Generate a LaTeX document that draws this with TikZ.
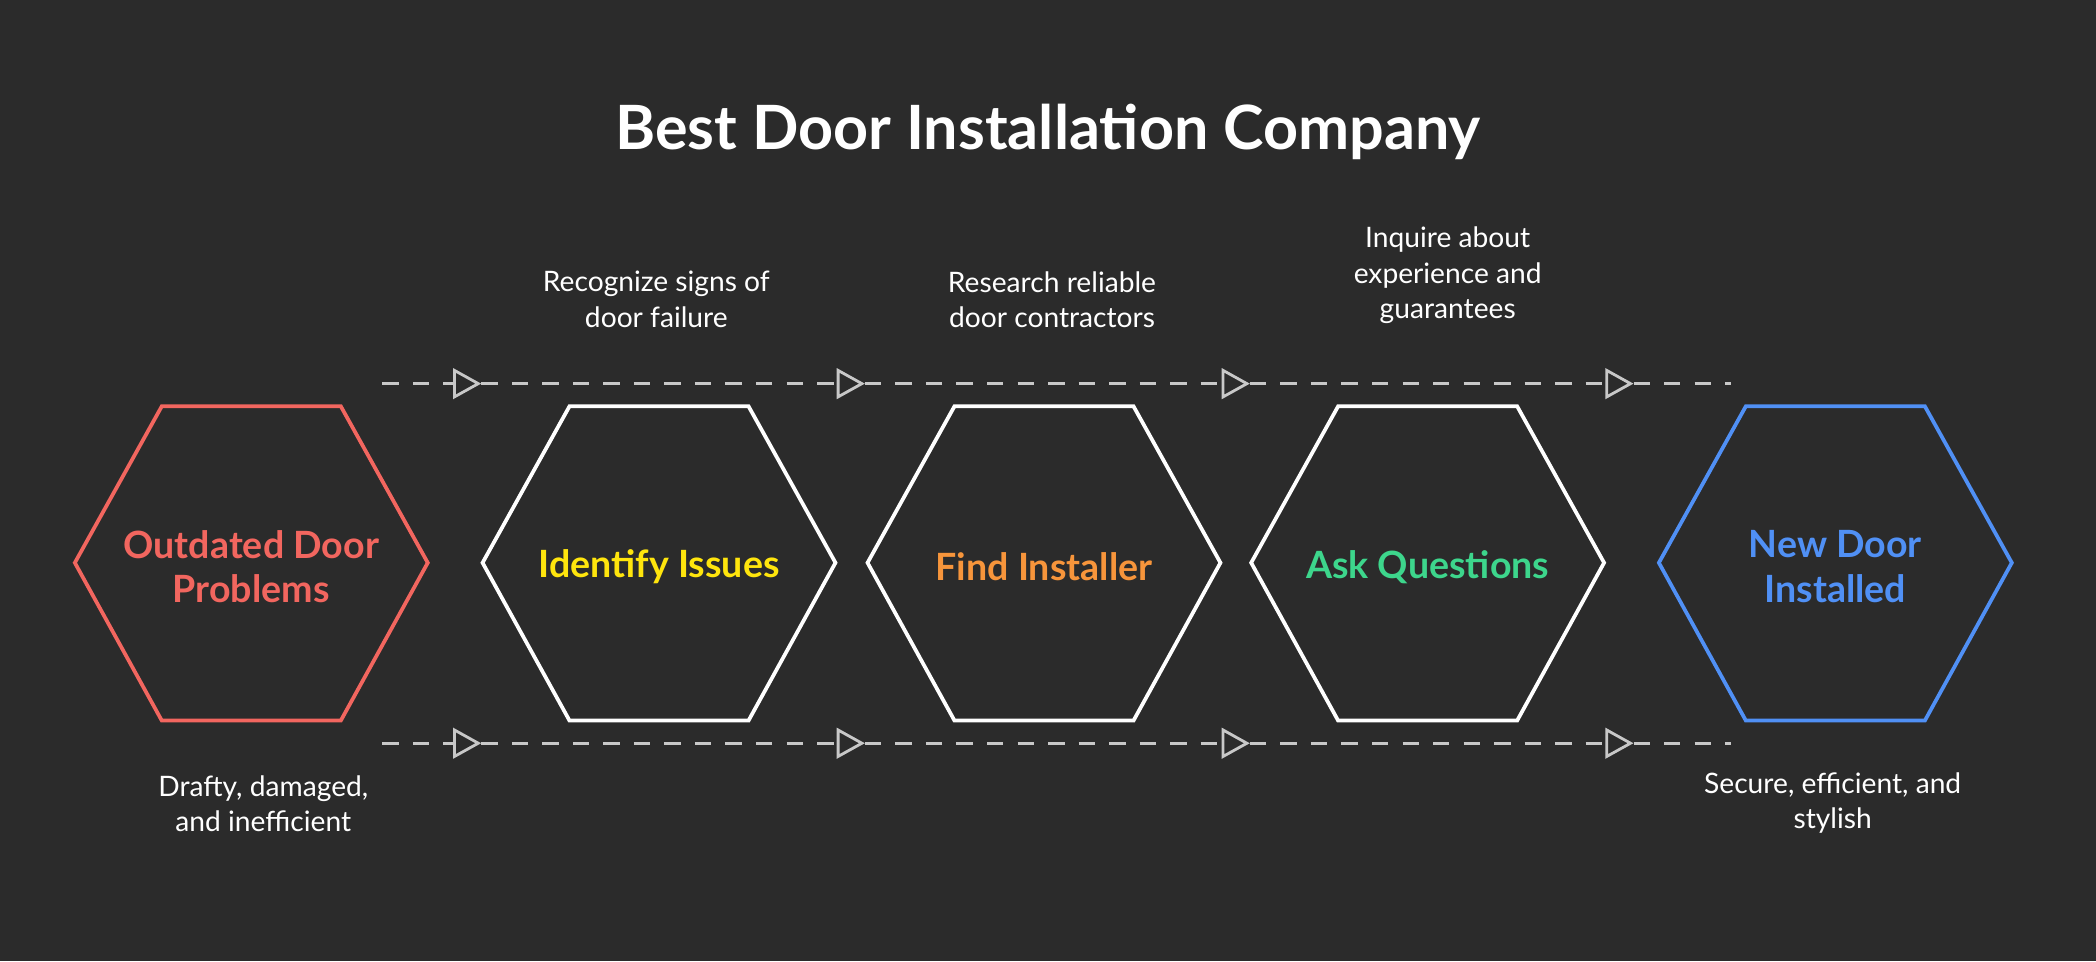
\documentclass[tikz,border=0pt]{standalone}
\usepackage{fontspec}
\setmainfont{Lato}
\usetikzlibrary{arrows.meta}

\definecolor{bg}{HTML}{2B2B2B}
\definecolor{cred}{HTML}{F2665F}
\definecolor{cyellow}{HTML}{FFE50D}
\definecolor{corange}{HTML}{F7953B}
\definecolor{cgreen}{HTML}{3DD68C}
\definecolor{cblue}{HTML}{5090F5}
\definecolor{dashgray}{HTML}{C8C8C8}

% hexagon centred at (#1,421), half width 132
\newcommand{\hexa}[2]{%
  \draw[#2, line width=1.6pt, line join=miter]
    (#1-132,421) -- (#1-67,304) -- (#1+67,304) -- (#1+132,421)
    -- (#1+67,539) -- (#1-67,539) -- cycle;}

\tikzset{
  steptext/.style={font=\bfseries\fontsize{16}{19}\selectfont, align=center},
  note/.style={text=white, font=\fontsize{12}{15}\selectfont, align=center},
  flow/.style={dashgray, line width=1.2pt, dash pattern=on 7pt off 6pt,
    -{Triangle[open, length=12pt, width=13pt]}},
  flowend/.style={dashgray, line width=1.2pt, dash pattern=on 7pt off 6pt}
}

\begin{document}
\begin{tikzpicture}[x=0.02cm, y=-0.02cm]

        % Background
        \fill[bg] (0,0) rectangle (1568,719);
        \useasboundingbox (0,0) rectangle (1568,719);

        % Title
        \node[text=white, font=\bfseries\fontsize{26}{31}\selectfont] (title) at (784,99) {Best Door Installation Company};

        % Hexagons
        \hexa{188}{cred}
        \hexa{493}{white}
        \hexa{781}{white}
        \hexa{1068}{white}
        \hexa{1373}{cblue}

        % Step texts
        \node[steptext, text=cred] (outdated) at (188,424) {Outdated Door\\Problems};
        \node[steptext, text=cyellow] (identify) at (493,424) {Identify Issues};
        \node[steptext, text=corange] (find) at (781,424) {Find Installer};
        \node[steptext, text=cgreen] (ask) at (1068,424) {Ask Questions};
        \node[steptext, text=cblue] (newdoor) at (1373,424) {New Door\\Installed};

        % Notes
        \node[note] (recognize) at (491,224) {Recognize signs of\\door failure};
        \node[note] (research) at (787,224) {Research reliable\\door contractors};
        \node[note] (inquire) at (1083,206) {Inquire about\\experience and\\guarantees};
        \node[note] (drafty) at (197,601) {Drafty, damaged,\\and inefficient};
        \node[note] (secure) at (1371,601) {Secure, efficient, and\\stylish};

        % Flow lines
        \foreach \y/\r in {287/t, 556/b} {
          \coordinate (\r0) at (286,\y);
          \coordinate (\r1) at (360,\y);
          \coordinate (\r2) at (647,\y);
          \coordinate (\r3) at (935,\y);
          \coordinate (\r4) at (1222,\y);
          \coordinate (\r5) at (1295,\y);
          \draw[flow] (\r0) -- (\r1);
          \draw[flow] (\r1) -- (\r2);
          \draw[flow] (\r2) -- (\r3);
          \draw[flow] (\r3) -- (\r4);
          \draw[flowend] (\r4) -- (\r5);
        }

\end{tikzpicture}
\end{document}
